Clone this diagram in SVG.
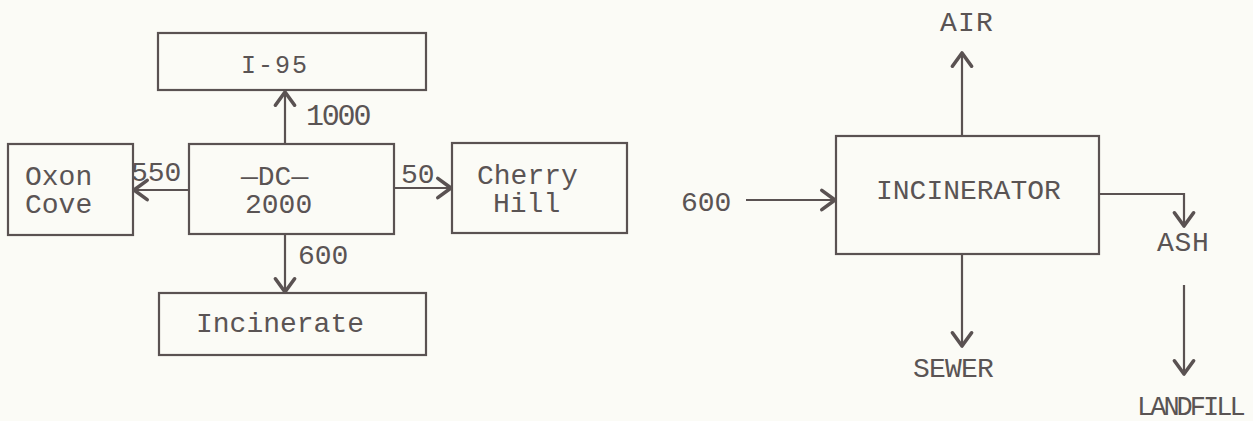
<svg xmlns="http://www.w3.org/2000/svg" width="1253" height="421" viewBox="0 0 1253 421">
<style>
.bg{fill:#fbfbf6}
.box{fill:none;stroke:#5a5252;stroke-width:2.2}
.ln{fill:none;stroke:#5a5252;stroke-width:2.2}
.t{font-family:"Liberation Mono","Courier New",monospace;font-size:28px;fill:#5a5454;letter-spacing:0px}
</style>
<defs>
<marker id="ah" markerUnits="userSpaceOnUse" markerWidth="24" markerHeight="24" refX="0" refY="0" viewBox="-14 -10 16 20" orient="auto" overflow="visible">
<path d="M-11,-8 L0,0 L-11,8" fill="none" stroke="#5a5252" stroke-width="3" stroke-linecap="round" stroke-linejoin="round"/>
</marker>
</defs>
<rect class="bg" x="0" y="0" width="1253" height="421"/>
<g id="i95"><rect class="box" x="158" y="33" width="268" height="57"/><text class="t" x="241" y="73" style="font-size:25px;letter-spacing:2px">I-95</text></g>
<g id="oxon"><rect class="box" x="8" y="144" width="125" height="91"/><text class="t" x="25" y="185">Oxon</text><text class="t" x="25" y="213">Cove</text></g>
<g id="dc"><rect class="box" x="189" y="144" width="205" height="90"/><text class="t" x="241" y="185">—DC—</text><text class="t" x="245" y="213">2000</text></g>
<g id="cherry"><rect class="box" x="452" y="143" width="175" height="90"/><text class="t" x="477" y="184">Cherry</text><text class="t" x="493" y="212">Hill</text></g>
<g id="incinerate"><rect class="box" x="159" y="293" width="267" height="62"/><text class="t" x="196" y="332">Incinerate</text></g>
<g id="incinerator"><rect class="box" x="836" y="136" width="263" height="118"/><text class="t" x="876" y="199">INCINERATOR</text></g>
<g id="air"><text class="t" x="940" y="31" style="letter-spacing:1.2px">AIR</text></g>
<g id="sewer"><text class="t" x="913" y="377" style="letter-spacing:-0.8px">SEWER</text></g>
<g id="ash"><text class="t" x="1157" y="251" style="letter-spacing:0.7px">ASH</text></g>
<g id="landfill"><text class="t" x="1137" y="415" style="font-size:27px;letter-spacing:-3px">LANDFILL</text></g>
<g id="connectors">
<line class="ln" x1="285" y1="144" x2="285" y2="92" marker-end="url(#ah)"/>
<line class="ln" x1="189" y1="190" x2="134" y2="190" marker-end="url(#ah)"/>
<line class="ln" x1="394" y1="188" x2="451" y2="188" marker-end="url(#ah)"/>
<line class="ln" x1="285" y1="234" x2="285" y2="292" marker-end="url(#ah)"/>
<line class="ln" x1="746" y1="200" x2="835" y2="200" marker-end="url(#ah)"/>
<line class="ln" x1="962" y1="136" x2="962" y2="53" marker-end="url(#ah)"/>
<line class="ln" x1="962" y1="254" x2="962" y2="346" marker-end="url(#ah)"/>
<path class="ln" d="M1099,194 H1184 V226" marker-end="url(#ah)"/>
<line class="ln" x1="1184" y1="285" x2="1184" y2="374" marker-end="url(#ah)"/>
<text class="t" x="306" y="125" style="font-size:30px;letter-spacing:-2.2px">1000</text>
<text class="t" x="131" y="181">550</text>
<text class="t" x="401" y="183">50</text>
<text class="t" x="298" y="264">600</text>
<text class="t" x="681" y="211">600</text>
</g>
</svg>
